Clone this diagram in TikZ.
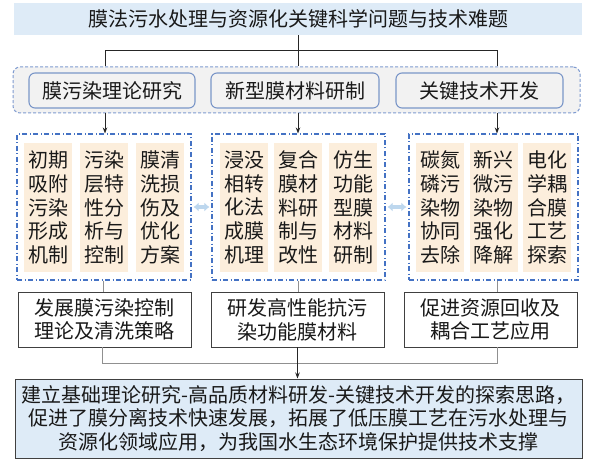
\documentclass[tikz,border=0pt]{standalone}
\usepackage{fontspec}
\newfontfamily\cjk{Noto Sans CJK SC}
\usetikzlibrary{arrows.meta}
\definecolor{titlefill}{HTML}{DEEBF7}
\definecolor{grpfill}{HTML}{F2F2F2}
\definecolor{grpline}{HTML}{7F9BD0}
\definecolor{innerline}{HTML}{7A96C8}
\definecolor{ddline}{HTML}{4472C4}
\definecolor{beige}{HTML}{FCEEDC}
\definecolor{dblblue}{HTML}{BDD7EE}
\definecolor{boxline}{HTML}{404040}
\definecolor{finalfill}{HTML}{DEEBF7}
\definecolor{glinec}{HTML}{909090}
\tikzset{
  txt/.style={font=\cjk\fontsize{20pt}{23.7pt}\selectfont, align=center, inner sep=0pt, text=black!90},
  titlebox/.style={txt, fill=titlefill, minimum width=568pt, minimum height=32pt},
  grpbox/.style={draw=grpline, fill=grpfill, dash pattern=on 3pt off 2pt, line width=1pt, rounded corners=7pt, minimum width=567pt, minimum height=46pt, inner sep=0pt},
  innerbox/.style={txt, draw=innerline, fill=grpfill, line width=1.1pt, rounded corners=6pt, minimum height=35pt},
  ddbox/.style={draw=ddline, line width=1.1pt, dash pattern=on 5pt off 2.5pt on 1pt off 2.5pt, minimum height=146pt, inner sep=0pt},
  colbox/.style={txt, fill=beige, minimum width=48pt, minimum height=129pt},
  resbox/.style={txt, draw=boxline, fill=white, line width=0.9pt, minimum width=173pt, minimum height=55pt},
  finalbox/.style={txt, draw=boxline, fill=finalfill, line width=1pt, minimum width=567pt, minimum height=79pt},
  conn/.style={draw=black!85, line width=0.8pt},
  arr/.style={conn, -{Stealth[length=6pt,width=4.5pt]}},
  gline/.style={draw=glinec, line width=0.8pt},
  dbl/.style={draw=dblblue, line width=3.5pt, {Latex[length=5pt,width=9pt]}-{Latex[length=5pt,width=9pt]}, shorten <=2pt, shorten >=2pt}
}
\begin{document}
\begin{tikzpicture}[x=1pt,y=-1pt]
\useasboundingbox[fill=white] (0,0) rectangle (589,468);
% title
\node[titlebox] (title) at (298,19) {膜法污水处理与资源化关键科学问题与技术难题};
% group
\node[grpbox] (grp) at (296.5,90) {};
\node[innerbox, minimum width=166pt] (i1) at (112,90.5) {膜污染理论研究};
\node[innerbox, minimum width=168pt] (i2) at (295,90.5) {新型膜材料研制};
\node[innerbox, minimum width=167pt] (i3) at (479.5,90.5) {关键技术开发};
% dash-dot boxes
\node[ddbox, minimum width=174pt] (D1) at (104,207) {};
\node[ddbox, minimum width=173pt] (D2) at (298.5,207) {};
\node[ddbox, minimum width=169pt] (D3) at (493.5,207) {};
% columns
\node[colbox] (c11) at (48,207.5) {初期\\吸附\\污染\\形成\\机制};
\node[colbox] (c12) at (104,207.5) {污染\\层特\\性分\\析与\\控制};
\node[colbox] (c13) at (160,207.5) {膜清\\洗损\\伤及\\优化\\方案};
\node[colbox] (c21) at (244,207.5) {浸没\\相转\\化法\\成膜\\机理};
\node[colbox] (c22) at (298,207.5) {复合\\膜材\\料研\\制与\\改性};
\node[colbox] (c23) at (353,207.5) {仿生\\功能\\型膜\\材料\\研制};
\node[colbox] (c31) at (440,207.5) {碳氮\\磷污\\染物\\协同\\去除};
\node[colbox] (c32) at (493.5,207.5) {新兴\\微污\\染物\\强化\\降解};
\node[colbox] (c33) at (547,207.5) {电化\\学耦\\合膜\\工艺\\探索};
% result boxes
\node[resbox] (B1) at (104.5,319.5) {发展膜污染控制\\理论及清洗策略};
\node[resbox] (B2) at (297.5,319.5) {研发高性能抗污\\染功能膜材料};
\node[resbox] (B3) at (490.5,319.5) {促进资源回收及\\耦合工艺应用};
% final
\node[finalbox] (F) at (298.5,418.5) {建立基础理论研究-高品质材料研发-关键技术开发的探索思路，\\促进了膜分离技术快速发展，拓展了低压膜工艺在污水处理与\\资源化领域应用，为我国水生态环境保护提供技术支撑};
% connectors top
\coordinate (j1) at (105,50);
\coordinate (j3) at (497,50);
\draw[conn] (title.south) -- (title.south |- grp.north);
\draw[conn] (j1 |- grp.north) -- (j1) -- (j3) -- (j3 |- grp.north);
\draw[arr] (j1 |- grp.south) -- (j1 |- D1.north);
\draw[arr] (title.south |- grp.south) -- (title.south |- D2.north);
\draw[arr] (j3 |- grp.south) -- (j3 |- D3.north);
% double arrows
\draw[dbl] (D1.east) -- (D2.west);
\draw[dbl] (D2.east) -- (D3.west);
% D to B
\coordinate (k1) at (103,0);
\coordinate (k3) at (497,0);
\draw[gline] (k1 |- D1.south) -- (k1 |- B1.north);
\draw[gline] (D2.south) -- (D2.south |- B2.north);
\draw[gline] (k3 |- D3.south) -- (k3 |- B3.north);
% B to F
\coordinate (m1) at (102,363);
\coordinate (m3) at (497,363);
\draw[gline] (m1 |- B1.south) -- (m1) -- (m3) -- (m3 |- B3.south);
\draw[arr] (B2.south) -- (B2.south |- F.north);
\end{tikzpicture}
\end{document}
